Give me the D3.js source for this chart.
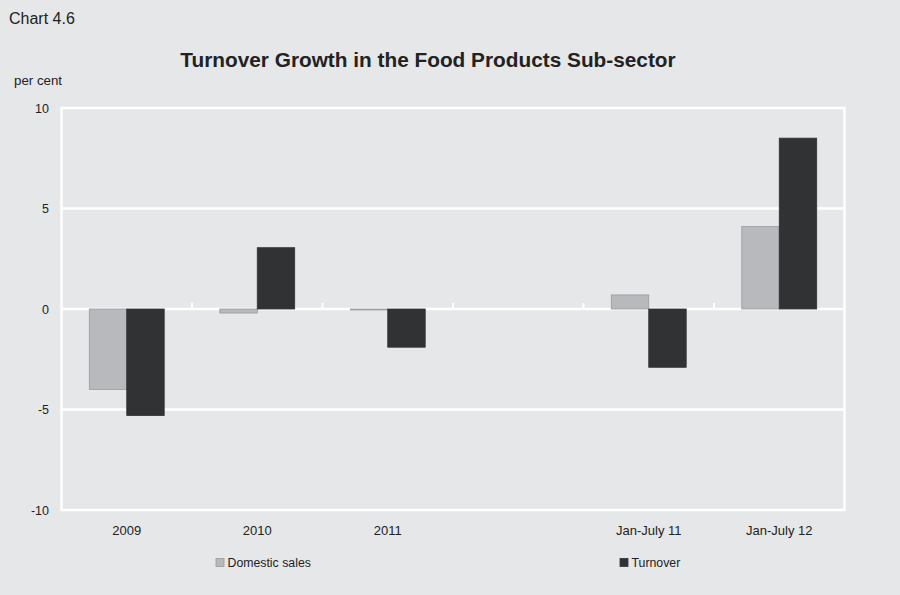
<!DOCTYPE html>
<html>
<head>
<meta charset="utf-8">
<script src="https://cdn.jsdelivr.net/npm/d3@7/dist/d3.min.js"></script>
<style>
  html, body { margin: 0; padding: 0; background: #e6e7e9; }
  svg { display: block; }
  text { font-family: "Liberation Sans", Arial, sans-serif; fill: #222; }
</style>
</head>
<body>
<svg id="chart" width="900" height="595"></svg>
<script>
// Turnover growth, per cent, food products sub-sector
const categories = ["2009", "2010", "2011", "", "Jan-July 11", "Jan-July 12"];
const domesticSales = [-4.0, -0.2, -0.05, null, 0.7, 4.1];
const turnover = [-5.3, 3.05, -1.9, null, -2.9, 8.5];
const yTicks = [-10, -5, 0, 5, 10];
const seriesNames = ["Domestic sales", "Turnover"];
const seriesColors = ["#b8b9bc", "#313234"];
const seriesStrokes = ["#9a9b9e", "#313234"];

const svg = d3.select("#chart");
const plot = { left: 61.5, right: 844.5, top: 108, bottom: 510 };

const x = d3.scaleBand().domain(categories).range([plot.left, plot.right]).paddingInner(0).paddingOuter(0);
const y = d3.scaleLinear().domain([-10, 10]).range([plot.bottom, plot.top]);
const groupWidth = x.bandwidth() * 0.574;
const xs = d3.scaleBand().domain(seriesNames).range([0, groupWidth]);

// Chart label and title
svg.append("text").attr("x", 9).attr("y", 24).attr("font-size", 16).text("Chart 4.6");
svg.append("text").attr("x", 428).attr("y", 67).attr("text-anchor", "middle")
  .attr("font-size", 20.8).attr("font-weight", "bold").attr("fill", "#111")
  .text("Turnover Growth in the Food Products Sub-sector");
svg.append("text").attr("x", 14).attr("y", 85).attr("font-size", 13.3).text("per cent");

// Horizontal grid lines and frame sides
svg.append("g").selectAll("line").data(yTicks).join("line")
  .attr("x1", plot.left - 1).attr("x2", plot.right + 1)
  .attr("y1", d => y(d)).attr("y2", d => y(d))
  .attr("stroke", "#fff").attr("stroke-width", 2.5);
[plot.left, plot.right].forEach(px => {
  svg.append("line").attr("x1", px).attr("x2", px)
    .attr("y1", plot.top).attr("y2", plot.bottom)
    .attr("stroke", "#fff").attr("stroke-width", 2.5);
});

// Y axis labels
svg.append("g").selectAll("text").data(yTicks).join("text")
  .attr("x", 49).attr("y", d => y(d) + 4.5).attr("text-anchor", "end")
  .attr("font-size", 12.5).text(d => d);

// Bars
const rows = categories.map((c, i) => ({ c, vals: [domesticSales[i], turnover[i]] }));
const groups = svg.append("g").selectAll("g").data(rows).join("g")
  .attr("transform", d => `translate(${x(d.c) + (x.bandwidth() - groupWidth) / 2},0)`);
groups.selectAll("rect")
  .data(d => d.vals.map((v, k) => ({ v, k })).filter(e => e.v !== null))
  .join("rect")
  .attr("x", e => xs(seriesNames[e.k]))
  .attr("width", xs.bandwidth())
  .attr("y", e => y(Math.max(0, e.v)))
  .attr("height", e => Math.max(1, Math.abs(y(e.v) - y(0))))
  .attr("fill", e => seriesColors[e.k])
  .attr("stroke", e => seriesStrokes[e.k])
  .attr("stroke-width", 0.8);

// Category ticks on the zero line
svg.append("g").selectAll("line").data(categories.slice(1)).join("line")
  .attr("x1", d => x(d)).attr("x2", d => x(d))
  .attr("y1", y(0) - 6).attr("y2", y(0))
  .attr("stroke", "#fff").attr("stroke-width", 2);

// Category labels
svg.append("g").selectAll("text").data(categories).join("text")
  .attr("x", d => x(d) + x.bandwidth() / 2).attr("y", 535)
  .attr("text-anchor", "middle").attr("font-size", 13)
  .text(d => d);

// Legend
const legendX = [216, 620];
const legend = svg.append("g").selectAll("g").data(seriesNames).join("g")
  .attr("transform", (d, i) => `translate(${legendX[i]},558)`);
legend.append("rect").attr("width", 8).attr("height", 8).attr("y", 0.5)
  .attr("fill", (d, i) => seriesColors[i]).attr("stroke", (d, i) => seriesStrokes[i]).attr("stroke-width", 0.8);
legend.append("text").attr("x", 11.5).attr("y", 9).attr("font-size", 12.3)
  .text(d => d);
</script>
</body>
</html>
